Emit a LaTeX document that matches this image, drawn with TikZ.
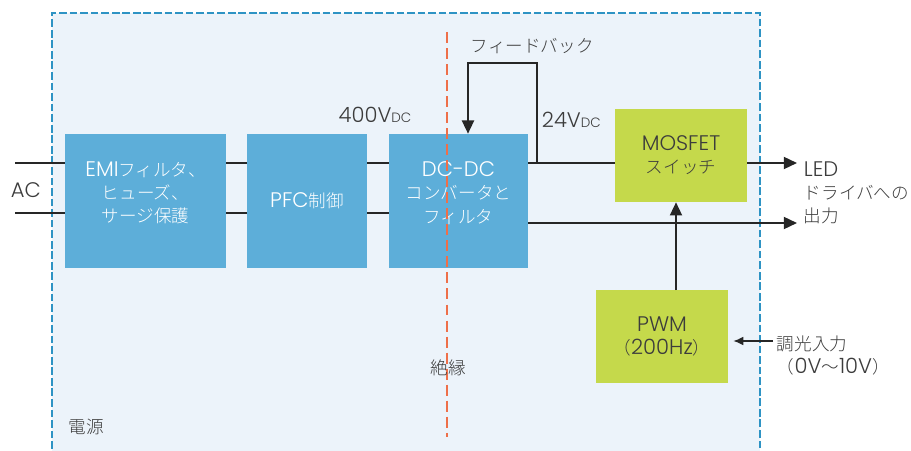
\documentclass[tikz,border=0pt]{standalone}
\usepackage{fontspec}
\setmainfont{Noto Sans CJK JP}[UprightFont=* Light]
\newfontfamily\lat{Poppins}[UprightFont=* Light, Scale=1.2]
\usetikzlibrary{arrows.meta}
\definecolor{frameBlue}{HTML}{2E93C4}
\definecolor{bgBlue}{HTML}{ECF3FA}
\definecolor{boxBlue}{HTML}{5DAED9}
\definecolor{boxGreen}{HTML}{C5D94B}
\definecolor{isoOrange}{HTML}{EE6F49}
\definecolor{textGray}{HTML}{3C3C3C}

\begin{document}
\begin{tikzpicture}[x=0.025cm, y=-0.025cm,
    >={Triangle[length=0.33cm,width=0.3cm]},
    font=\fontsize{12.5}{16.5}\selectfont, text=textGray,
    wire/.style={line width=1.4pt, draw=black!85},
    blk/.style={fill=boxBlue, inner sep=0pt},
    gblk/.style={fill=boxGreen, text=textGray, align=center, inner sep=0pt},
    btext/.style={text=white, align=center, inner sep=0pt}]

    \useasboundingbox (0,0) rectangle (911,451);

    % supply area
    \fill[bgBlue] (52,13) rectangle (760,451);
    \draw[frameBlue, line width=0.9pt, dash pattern=on 5.5pt off 2pt]
        (52,470) -- (52,13) -- (760,13) -- (760,470);
    \node[anchor=west] (psu) at (64,427) {電源};

    % blocks
    \node[blk, minimum width=4.025cm, minimum height=3.35cm] (emi) at (145.5,201) {};
    \node[btext] (emiT) at ([yshift=0.2cm]emi.center)
        {{\lat EMI}フィルタ、\\ヒューズ、\\サージ保護};
    \node[blk, minimum width=3.0cm, minimum height=3.35cm] (pfc) at (307,201) {};
    \node[btext] (pfcT) at (pfc.center) {{\lat PFC}制御};
    \node[blk, minimum width=3.475cm, minimum height=3.35cm] (dcdc) at (458.5,201) {};
    \node[btext] (dcdcT) at ([yshift=0.2cm]dcdc.center)
        {{\lat DC-DC}\\コンバータと\\フィルタ};
    \node[gblk, minimum width=3.3cm, minimum height=2.325cm] (mosfet) at (681,155.5)
        {{\lat MOSFET}\\スイッチ};
    \node[gblk, minimum width=3.3cm, minimum height=2.325cm] (pwm) at (662,336.5)
        {{\lat PWM}\\（{\lat 200Hz}）};

    % isolation barrier
    \draw[isoOrange, line width=2.1pt, dash pattern=on 7.8pt off 3.6pt] (447,32) -- (447,437);
    \node (iso) at (448,368) {絶縁};

    % AC input and power path
    \coordinate (ac1) at (15,163);
    \coordinate (ac2) at (15,213);
    \node (ac) at (26,190) {\lat AC};
    \foreach \c in {ac1,ac2} {
        \draw[wire] (\c) -- (\c -| emi.west);
        \draw[wire] (\c -| emi.east) -- (\c -| pfc.west);
        \draw[wire] (\c -| pfc.east) -- (\c -| dcdc.west);
    }
    \node (hv) at (375,115) {\lat 400V{\fontsize{8}{8}\selectfont DC}};

    % outputs
    \coordinate (out1) at (797,163);
    \coordinate (out2) at (797,223);
    \draw[wire] (out1 -| dcdc.east) -- (out1 -| mosfet.west);
    \draw[wire,->] (mosfet.east |- out1) -- (out1);
    \draw[wire,->] (out2 -| dcdc.east) -- (out2);
    \node[anchor=west] (lv) at (537,120) {\lat 24V{\fontsize{8}{8}\selectfont DC}};
    \node[anchor=west, align=left] (led) at (799,193) {{\lat LED}\\ドライバへの\\出力};

    % feedback loop
    \coordinate (fbtap) at (537,163);
    \coordinate (fbtop) at (537,63);
    \coordinate (fbleft) at (468,63);
    \draw[wire,->] (fbtap) -- (fbtop) -- (fbleft) -- (fbleft |- dcdc.north);
    \node[anchor=west] (fb) at (466,46) {フィードバック};

    % dimming control
    \coordinate (pwmtap) at (676,290);
    \draw[wire,->] (pwmtap) -- (pwmtap |- mosfet.south);
    \coordinate (dimsrc) at (773,341);
    \draw[line width=1.1pt, draw=black!85, -{Latex[length=0.25cm,width=0.22cm]}, shorten >=0.125cm]
        (dimsrc) -- (pwm.east |- dimsrc);
    \node[anchor=west, align=left] (dim) at (772,355.5) {調光入力\\（{\lat 0V}～{\lat 10V}）};

\end{tikzpicture}
\end{document}
